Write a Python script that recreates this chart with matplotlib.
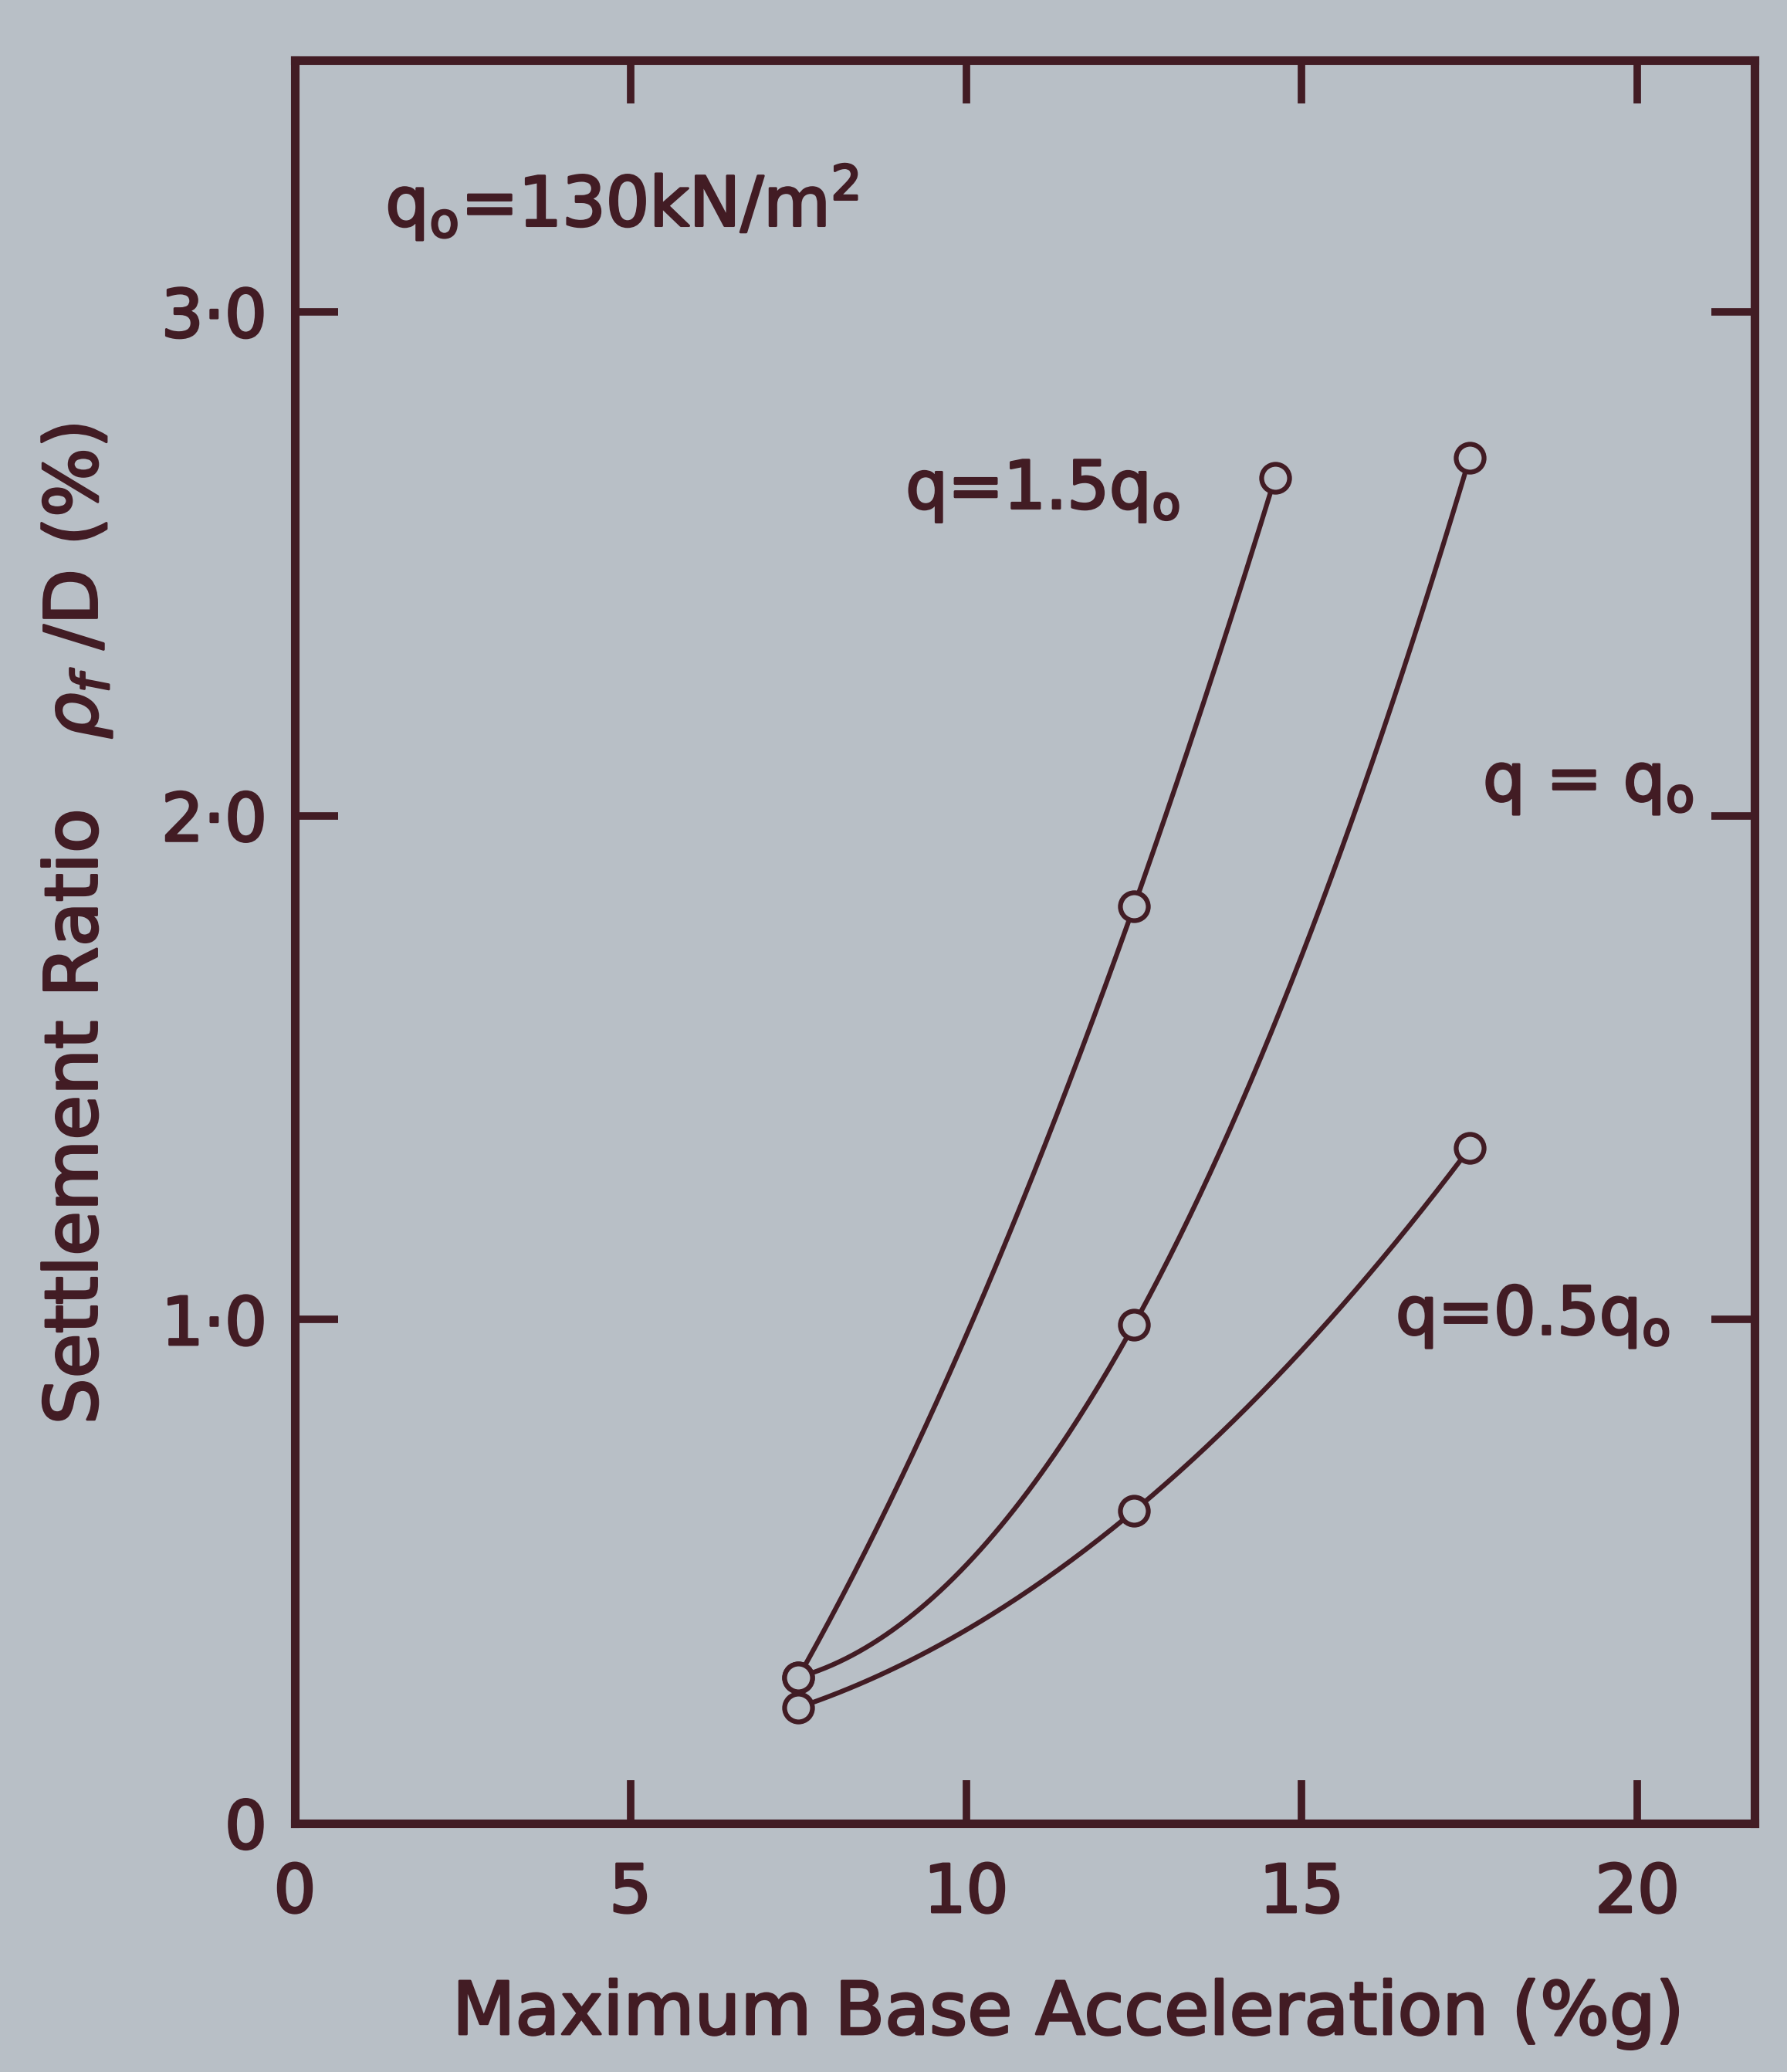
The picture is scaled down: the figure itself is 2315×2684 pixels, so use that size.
import numpy as np
import matplotlib
matplotlib.use("Agg")
import matplotlib.pyplot as plt
import matplotlib.patheffects as pe

# values (max base acceleration in %g, settlement ratio in %)
accel_15 = [7.5, 12.5, 14.6]
settle_15 = [0.29, 1.82, 2.67]

accel_10 = [7.5, 12.5, 17.5]
settle_10 = [0.29, 0.99, 2.71]

accel_05 = [7.5, 12.5, 17.5]
settle_05 = [0.23, 0.62, 1.34]

x_ticks = [0, 5, 10, 15, 20]
y_ticks = [0, 1, 2, 3]
y_tick_labels = ["0", "1·0", "2·0", "3·0"]

ink = "#421c24"
paper = "#b8bfc6"

plt.rcParams["font.family"] = ["DejaVu Sans"]
plt.rcParams["mathtext.default"] = "regular"

# printed type is a bit heavier than the regular weight
thick = [pe.withStroke(linewidth=2.2, foreground=ink)]

fig = plt.figure(figsize=(23.15, 26.84), dpi=100, facecolor=paper)
ax = fig.add_axes([0.165, 0.12, 0.817, 0.851], facecolor=paper)


def smooth(xs, ys):
    # quadratic through the three measured points, only to draw the curve
    c = np.polyfit(xs, ys, 2)
    xx = np.linspace(xs[0], xs[-1], 200)
    return xx, np.polyval(c, xx)


for xs, ys in [(accel_15, settle_15), (accel_10, settle_10), (accel_05, settle_05)]:
    xx, yy = smooth(xs, ys)
    ax.plot(xx, yy, color=ink, lw=4.5, zorder=2)
    ax.plot(xs, ys, "o", ms=26, mfc=paper, mec=ink, mew=4.5, zorder=3)

ax.set_xlim(0, 21.75)
ax.set_ylim(0, 3.5)
ax.set_xticks(x_ticks)
ax.set_yticks(y_ticks)
ax.set_yticklabels(y_tick_labels)

for s in ax.spines.values():
    s.set_linewidth(8)
    s.set_color(ink)

ax.tick_params(direction="in", length=40, width=7, color=ink, top=True, right=True,
               labeltop=False, labelright=False, labelsize=62, labelcolor=ink)
ax.tick_params(axis="y", pad=26)
ax.tick_params(axis="x", pad=36)
for lab in ax.get_xticklabels() + ax.get_yticklabels():
    lab.set_path_effects(thick)

ax.set_xlabel("Maximum Base Acceleration (%g)", fontsize=68, color=ink, path_effects=thick)
ax.xaxis.set_label_coords(0.53, -0.088)
ax.set_ylabel(r"Settlement Ratio   $\mathit{\rho}_{\mathit{f}}$ /D (%)", fontsize=68,
              color=ink, path_effects=thick)
ax.yaxis.set_label_coords(-0.124, 0.51)

ax.text(1.35, 3.17, r"q$_o$=130kN/m$^2$", fontsize=64, color=ink, va="baseline", path_effects=thick)
ax.text(9.1, 2.61, r"q=1.5q$_o$", fontsize=62, color=ink, va="baseline", path_effects=thick)
ax.text(17.7, 2.03, r"q = q$_o$", fontsize=62, color=ink, va="baseline", path_effects=thick)
ax.text(16.4, 0.97, r"q=0.5q$_o$", fontsize=62, color=ink, va="baseline", path_effects=thick)

fig.savefig("out.png", dpi=100, facecolor=paper)
